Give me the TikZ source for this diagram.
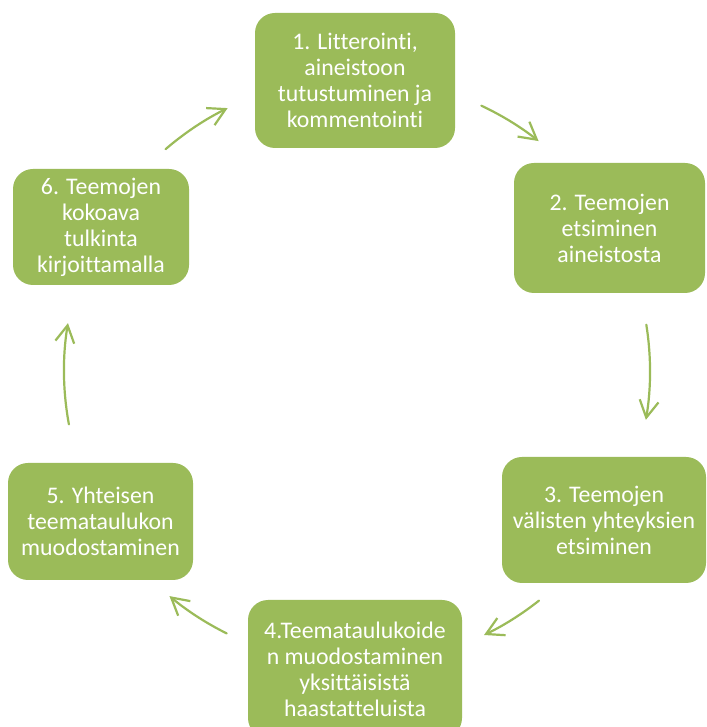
\documentclass[tikz,border=0pt]{standalone}
\usepackage{fontspec}
\setmainfont{Carlito}[Ligatures={NoCommon,NoRare,NoDiscretionary}]
\usetikzlibrary{arrows.meta,calc}
\definecolor{boxgreen}{HTML}{9BBB59}
\tikzset{
  stage/.style={rectangle, rounded corners=20pt, fill=boxgreen, draw=none,
    text=white, align=center, inner sep=0pt,
    font=\fontsize{23.8}{26}\selectfont},
  cyc/.style={draw=boxgreen, line width=2.2pt, line cap=round, line join=round,
    -{Straight Barb[length=17pt,width=19pt,line width=2.2pt]}}
}
\begin{document}
\begin{tikzpicture}[x=1pt,y=1pt]
\useasboundingbox (0,0) rectangle (706,727);
\clip (0,0) rectangle (706,727);
\fill[white] (0,0) rectangle (706,727);
\coordinate (c) at (357,356);
\node[stage, minimum width=200pt, minimum height=135pt] (s1) at (355,646.5)
  {1. Litterointi,\\aineistoon\\tutustuminen ja\\kommentointi};
\node[stage, minimum width=191pt, minimum height=130pt] (s2) at (609.5,499)
  {2. Teemojen\\etsiminen\\aineistosta};
\node[stage, minimum width=204pt, minimum height=126pt] (s3) at (604,207)
  {3. Teemojen\\välisten yhteyksien\\etsiminen};
\node[stage, minimum width=214pt, minimum height=138pt] (s4) at (355,58)
  {4.Teemataulukoide\\n muodostaminen\\yksittäisistä\\haastatteluista};
\node[stage, minimum width=185pt, minimum height=117pt] (s5) at (100.5,205.5)
  {5. Yhteisen\\teemataulukon\\muodostaminen};
\node[stage, minimum width=176pt, minimum height=116pt] (s6) at (101,500)
  {6. Teemojen\\kokoava\\tulkinta\\kirjoittamalla};
\draw[cyc] ($(c)+(64.9:293)$) arc[start angle=64.9, end angle=51.7, radius=293];
\draw[cyc] ($(c)+(9.1:293)$) arc[start angle=9.1, end angle=-9.6, radius=293];
\draw[cyc] ($(c)+(-51.6:293)$) arc[start angle=-51.6, end angle=-64.3, radius=293];
\draw[cyc] ($(c)+(-116.4:293)$) arc[start angle=-116.4, end angle=-129.8, radius=293];
\draw[cyc] ($(c)+(190.5:293)$) arc[start angle=190.5, end angle=170.6, radius=293];
\draw[cyc] ($(c)+(130.8:293)$) arc[start angle=130.8, end angle=116.2, radius=293];
\end{tikzpicture}
\end{document}
